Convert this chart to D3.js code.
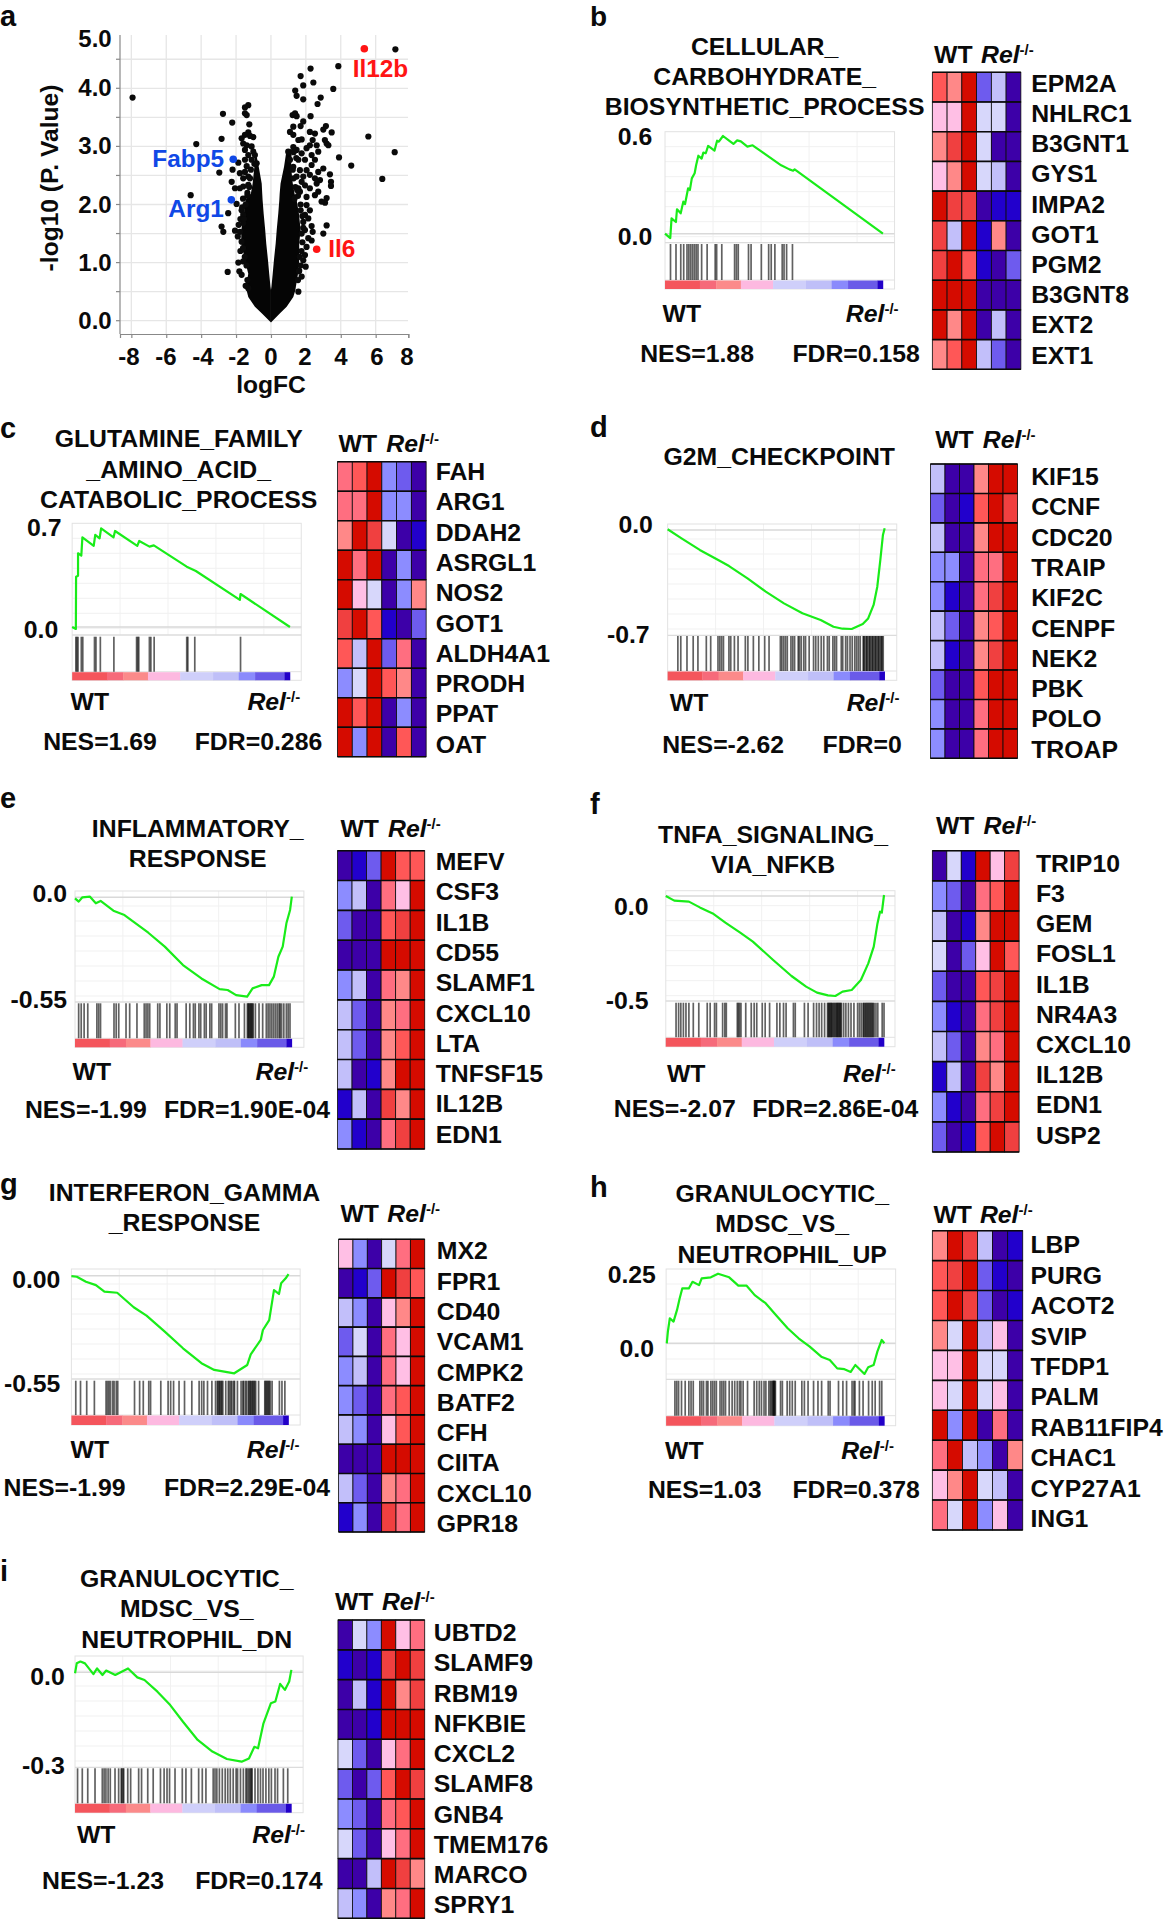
<!DOCTYPE html>
<html><head><meta charset="utf-8">
<script src="https://cdn.jsdelivr.net/npm/d3@7"></script>
<style>
html,body{margin:0;padding:0;background:#fff}
text{font-family:"Liberation Sans",Arial,sans-serif;font-weight:700;fill:#0a0a0a}
</style></head><body><svg id="c" width="1164" height="1920" viewBox="0 0 1164 1920"></svg>
<script>
// ---------- panel a : volcano ----------
const volcanoXTicks=[-8,-6,-4,-2,0,2,4,6,8];
const volcanoYTicks=[0,1,2,3,4,5];
const volcanoMinor=[0.5,1.5,2.5,3.5,4.5];
// dense cloud outline: -log10P, left arm outer/inner logFC, right arm inner/outer logFC
const massY=[-0.03,0.13,0.24,0.41,0.53,0.59,0.81,1.04,1.33,1.56,1.85,2.08,2.19,2.36,2.65,2.95];
const massLeftOuter=[0,-0.53,-0.92,-1.30,-1.40,-1.43,-1.30,-1.49,-1.70,-1.70,-1.55,-1.45,-1.15,-1.05,-0.95,-0.95];
const massLeftInner=[0,0,0,0,0,-0.03,-0.10,-0.17,-0.27,-0.33,-0.42,-0.48,-0.50,-0.53,-0.70,-0.90];
const massRightInner=[0,0,0,0,0,0.03,0.10,0.17,0.27,0.33,0.42,0.48,0.50,0.55,0.75,0.90];
const massRightOuter=[0,0.52,0.90,1.28,1.40,1.43,1.55,1.62,1.62,1.70,1.60,1.47,1.35,1.25,1.15,1.20];
const volcanoFC=[-7.93,7.13,6.38,7.09,5.58,
2.27,3.86,1.70,2.43,1.85,3.57,1.39,1.47,1.85,2.85,2.67,2.27,1.24,1.47,1.38,1.85,1.70,1.28,2.23,2.52,3.15,3.0,3.48,1.09,1.28,1.57,1.76,2.39,3.09,3.19,2.23,2.62,2.04,3.29,2.71,2.33,1.76,1.95,2.52,3.90,4.60,2.33,3.0,2.71,3.38,2.04,2.23,1.85,2.52,3.44,3.44,2.81,2.62,1.95,2.23,2.71,1.66,3.19,2.04,2.52,
1.28,0.99,1.47,1.09,1.57,1.28,1.66,1.47,1.76,1.57,
-1.30,-1.49,-1.49,-1.39,-1.24,-2.75,-2.22,-1.30,-1.20,-1.49,-1.68,-1.01,-2.83,-4.28,-1.59,-1.39,-1.11,-1.49,-1.01,-1.30,-0.92,-1.11,-1.49,-0.82,-1.39,-1.87,-2.20,-2.96,-1.78,-1.49,-1.59,-1.30,-2.25,-2.06,-1.78,-1.59,-1.30,
-1.97,-2.45,-2.83,-2.73,-2.06,-1.78,-1.59,-1.87,-1.59,-2.48,-1.81,-1.68,-1.30,-1.68,-1.59,-1.68,-4.60,
3.19,3.0,2.33,2.39,2.14,2.33,2.04,1.95,1.99,1.62,1.57,1.85,1.76,3.1,2.9,2.04,2.23,1.95,2.14,1.85,1.95,1.76,
-1.75,-1.9,-1.85,-1.75,-1.65,-1.6,-1.35,-1.25,-1.5,-1.4,-1.35,-1.45,-1.2,-1.15,-0.95,-1.6,-1.55,-1.45,-1.35,
1.7,1.75,1.8,1.85,1.8,1.7,1.55,1.4,1.3,1.25,1.45,1.3,1.55,1.6,1.65,1.7,1.5,1.35];
const volcanoP=[3.84,4.67,2.44,2.90,3.17,
4.34,4.38,4.21,4.10,4.05,3.99,3.96,3.87,3.81,3.84,3.73,3.52,3.54,3.52,3.57,3.43,3.35,3.34,3.25,3.22,3.35,3.29,3.24,3.25,3.20,3.11,3.12,3.11,3.11,3.05,3.02,3.02,2.97,3.02,2.91,2.85,2.88,2.77,2.77,2.81,2.67,2.68,2.62,2.56,2.52,2.59,2.51,2.48,2.45,2.39,2.32,2.42,2.36,2.33,2.28,2.22,2.22,2.11,2.13,2.16,
2.99,2.91,2.94,2.77,2.77,2.65,2.59,2.48,2.39,2.28,
3.71,3.67,3.57,3.54,3.38,3.56,3.41,3.24,3.18,3.20,3.14,3.16,3.13,3.04,3.05,3.02,3.0,2.94,2.91,2.85,2.85,2.77,2.77,2.71,2.66,2.72,2.60,2.55,2.54,2.56,2.45,2.48,2.39,2.28,2.28,2.31,2.34,
2.01,1.85,1.62,1.53,1.55,1.53,1.68,1.0,1.02,0.84,0.85,0.79,0.56,1.90,1.82,1.36,2.16,
1.64,1.50,1.63,1.53,1.42,1.38,1.27,1.13,0.93,0.86,0.50,1.04,0.76,2.03,2.05,1.99,1.90,1.82,1.76,1.70,1.56,1.50,
1.2,1.45,1.65,1.75,1.95,2.1,2.2,2.3,1.1,0.95,0.7,0.6,2.45,2.6,2.7,1.25,1.75,2.0,2.15,
0.95,1.2,1.35,1.6,1.8,2.0,2.15,2.3,2.45,2.6,2.8,2.9,0.7,0.85,1.1,1.9,2.25,2.1];
const namedGenes=["Il12b","Il6","Fabp5","Arg1"];
const namedFC=[5.35,2.62,-2.16,-2.27];
const namedP=[4.68,1.23,2.78,2.08];

// ---------- shared GSEA / heat map ----------
const heatColors=["#d50b00","#f04040","#ff5757","#ff6e80","#ff8888","#ffbfe5","#d7d7fb","#c2bffa","#8c8cff","#6e5bee","#3d00a8","#2200cc"];
const barEdges=[0,16,23.5,34.8,49.6,64.7,76.5,84,97.5,100];
const barColors=["#f4555c","#f66a7a","#fb8a8a","#fdb9e0","#cfcffa","#bfbff8","#8a8afc","#6a5ae8","#2200c8"];

const titleB=["CELLULAR_","CARBOHYDRATE_","BIOSYNTHETIC_PROCESS"];
const tickB=["0.6","0.0"]; const extremeB=0.6; const nesB="NES=1.88"; const fdrB="FDR=0.158";
const curveRankB=[0,2.4,3,5,5.5,7.2,8.4,9.2,10.6,11.4,12.3,13.6,14.3,15.3,16.8,17.6,18.7,19.8,22.7,23.9,24.7,26.6,29.4,31.4,33.1,34.8,37.8,40.2,44.5,53.3,57.1,58.8,59.5,100];
const curveEsB=[0,-.027,.094,.072,.15,.125,.197,.182,.279,.268,.34,.371,.422,.479,.461,.498,.494,.539,.51,.571,.565,.6,.571,.551,.573,.567,.535,.543,.502,.42,.395,.387,.395,0];
const hitsB=[15,30,43,51,60,65,70,75,80,85,90,100,115,137,141,155,190,195,200,228,235,263,283,290,300,320,325,332,348];
const genesB=["EPM2A","NHLRC1","B3GNT1","GYS1","IMPA2","GOT1","PGM2","B3GNT8","EXT2","EXT1"];
const heatB=[[2,4,0,9,7,10],[5,5,0,6,6,10],[4,1,0,6,10,10],[5,4,0,6,7,10],[0,1,1,10,11,11],[1,7,0,11,4,10],[1,0,2,11,10,9],[0,0,0,10,10,10],[0,4,0,10,7,10],[4,2,0,7,9,10]];

const titleC=["GLUTAMINE_FAMILY","_AMINO_ACID_","CATABOLIC_PROCESS"];
const tickC=["0.7","0.0"]; const extremeC=0.7; const nesC="NES=1.69"; const fdrC="FDR=0.286";
const curveRankC=[0,1.7,1.8,2.7,2.7,4.2,4.7,9.9,10.6,12.6,13.3,19,19.7,29.9,30.8,35.5,37.5,52.6,56.8,77,77.3,100];
const curveEsC=[0,-.014,.357,.364,.523,.506,.636,.575,.653,.629,.7,.636,.681,.575,.61,.57,.579,.428,.397,.192,.234,0];
const hitsC=[10,13,16,25,29,61,65,77,114,176,179,182,211,215,224,313,316,335,460];
const genesC=["FAH","ARG1","DDAH2","ASRGL1","NOS2","GOT1","ALDH4A1","PRODH","PPAT","OAT"];
const heatC=[[3,2,0,8,9,10],[3,3,0,8,8,10],[4,0,1,6,10,11],[0,3,0,10,8,10],[0,5,6,10,8,4],[1,0,2,11,10,9],[2,7,0,9,3,10],[8,6,0,2,4,10],[0,2,0,10,8,10],[0,8,0,10,2,10]];

const titleD=["G2M_CHECKPOINT"];
const tickD=["0.0","-0.7"]; const extremeD=-0.7; const nesD="NES=-2.62"; const fdrD="FDR=0";
const curveRankD=[0,6.4,14.8,23.3,28.3,36.8,45.2,53.6,62.1,70.5,76.4,80.6,84.8,89.9,92.4,94.9,96.6,98,99.2,100];
const curveEsD=[.005,-.059,-.141,-.212,-.255,-.342,-.436,-.519,-.589,-.636,-.684,-.698,-.7,-.665,-.625,-.53,-.401,-.212,-.035,.012];
const hitsD=[28,36,53,70,83,106,118,138,143,148,153,168,173,183,193,213,220,235,250,266,278,309,313,318,323,328,338,343,348,358,361,366,373,378,388,400,406,413,421,428,438,443,453,458,463,476,480,488,493,500,506,513,518,523,528,536,540,544,548,552,556,560,564,568,572,576,580,584,588,591,538,546,554,562,570,578,586];
const genesD=["KIF15","CCNF","CDC20","TRAIP","KIF2C","CENPF","NEK2","PBK","POLO","TROAP"];
const heatD=[[7,10,10,4,0,0],[9,10,11,2,0,1],[7,10,10,4,0,0],[8,8,10,3,3,0],[8,11,10,3,1,0],[7,9,10,4,2,0],[7,11,10,4,1,0],[9,10,10,2,0,0],[8,10,10,3,0,0],[8,10,10,3,0,0]];

const titleE=["INFLAMMATORY_","RESPONSE"];
const tickE=["0.0","-0.55"]; const extremeE=-0.55; const nesE="NES=-1.99"; const fdrE="FDR=1.90E-04";
const curveRankE=[0,1.7,3.4,6.8,9.6,11.8,17.7,22.8,33.8,41.4,49.8,58.3,66.7,70.4,74.3,79.4,81.9,86.1,89.5,91.7,93.8,95.8,97.5,99.2,100];
const curveEsE=[-.006,-.024,0,.004,-.033,-.02,-.074,-.098,-.196,-.273,-.375,-.449,-.508,-.513,-.541,-.55,-.504,-.486,-.486,-.439,-.329,-.273,-.144,-.07,.004];
const hitsE=[10,17,25,35,60,65,70,107,113,120,140,150,170,190,195,200,205,227,233,252,260,275,280,305,315,325,330,340,345,355,360,370,375,395,400,405,413,417,440,450,465,473,477,481,485,489,495,505,515,525,530,535,540,545,550,555,560,563,567,573,580,585,590,475,479,483,487];
const genesE=["MEFV","CSF3","IL1B","CD55","SLAMF1","CXCL10","LTA","TNFSF15","IL12B","EDN1"];
const heatE=[[10,11,9,0,2,2],[8,7,10,3,5,0],[9,10,10,2,1,0],[10,10,10,0,0,0],[8,7,10,3,4,0],[7,9,10,4,3,0],[7,9,10,4,2,0],[7,10,11,4,0,0],[11,7,10,1,4,0],[8,11,10,3,1,0]];

const titleF=["TNFA_SIGNALING_","VIA_NFKB"];
const tickF=["0.0","-0.5"]; const extremeF=-0.5; const nesF="NES=-2.07"; const fdrF="FDR=2.86E-04";
const curveRankF=[0,3.9,10.6,15.6,21.5,27.3,34.1,39.9,49.2,57.6,64.3,69.3,74.3,77.7,81,85.2,89.4,92.8,95.3,97,98.2,99,100];
const curveEsF=[0,-.023,-.028,-.057,-.087,-.133,-.183,-.228,-.32,-.4,-.453,-.483,-.497,-.5,-.478,-.47,-.42,-.337,-.253,-.137,-.078,-.083,.005];
const hitsF=[28,35,41,48,55,63,75,90,113,121,133,138,155,161,165,195,198,201,205,218,233,241,248,263,271,283,303,311,321,328,348,353,378,388,403,411,418,425,433,441,445,449,453,458,463,467,471,475,479,485,491,498,505,513,523,528,533,538,543,548,553,558,563,568,573,578,590,595,443,447,451,455,460,465,469,473,477,540,545,550,555,560,565];
const genesF=["TRIP10","F3","GEM","FOSL1","IL1B","NR4A3","CXCL10","IL12B","EDN1","USP2"];
const heatF=[[10,6,11,0,5,1],[8,9,10,3,2,0],[7,10,11,4,0,0],[6,10,9,5,0,2],[9,10,10,2,1,0],[8,11,10,3,1,0],[7,9,10,4,3,0],[11,7,10,1,4,0],[8,11,10,3,1,0],[9,10,11,2,0,1]];

const titleG=["INTERFERON_GAMMA","_RESPONSE"];
const tickG=["0.00","-0.55"]; const extremeG=-0.55; const nesG="NES=-1.99"; const fdrG="FDR=2.29E-04";
const curveRankG=[0,2.5,6.7,11.3,15.2,21.1,28.7,34.6,43,51.4,59.9,65.8,75,81,82.6,87.2,88.2,91.1,93.3,95.6,96.6,98.7,100];
const curveEsG=[-.002,-.006,-.034,-.053,-.09,-.096,-.178,-.225,-.315,-.409,-.493,-.531,-.55,-.503,-.443,-.362,-.306,-.25,-.081,-.103,-.043,-.015,.009];
const hitsG=[12,25,42,63,95,99,103,107,113,117,123,127,173,187,197,212,217,245,265,272,280,295,310,330,350,357,363,373,385,395,400,405,410,415,423,430,437,445,455,465,470,477,485,490,495,500,505,513,530,535,540,545,550,570,577,585,402,407,412,433,440,447,472,480,487,492,497,502,532,537,542];
const genesG=["MX2","FPR1","CD40","VCAM1","CMPK2","BATF2","CFH","CIITA","CXCL10","GPR18"];
const heatG=[[5,8,10,6,3,0],[10,11,9,0,1,2],[7,8,10,5,4,0],[9,6,10,3,5,0],[8,7,10,3,5,0],[8,9,10,3,2,0],[7,8,10,5,2,0],[10,10,10,0,0,0],[7,9,10,4,3,0],[11,8,10,1,3,0]];

const titleH=["GRANULOCYTIC_","MDSC_VS_","NEUTROPHIL_UP"];
const tickH=["0.25","0.0"]; const extremeH=0.25; const nesH="NES=1.03"; const fdrH="FDR=0.378";
const curveRankH=[.3,.8,1.7,3.4,5,6.2,7.4,10.4,12.1,15.1,16.3,20.5,23.8,28.9,33.1,36.9,40.6,45.6,50.7,55.7,60.7,65.8,71.1,75,78.4,81.7,84.6,86.7,90.9,92.6,95.1,96.8,98.8,100];
const curveEsH=[0,.042,.09,.078,.12,.161,.197,.197,.221,.209,.233,.237,.25,.237,.207,.207,.173,.144,.098,.054,.018,-.012,-.048,-.06,-.09,-.093,-.103,-.078,-.11,-.086,-.078,-.03,.012,0];
const hitsH=[24,29,34,42,52,62,68,74,92,97,102,110,114,122,127,132,137,147,152,157,162,172,180,187,194,200,204,210,222,240,247,254,260,267,272,280,287,292,295,298,312,317,330,337,344,352,370,377,387,402,414,424,442,447,470,482,492,507,512,527,537,552,562,570,582,588,284,290,293,296,515];
const genesH=["LBP","PURG","ACOT2","SVIP","TFDP1","PALM","RAB11FIP4","CHAC1","CYP27A1","ING1"];
const heatH=[[4,0,1,7,10,11],[2,1,0,9,11,10],[2,0,1,9,10,11],[4,6,0,7,5,10],[5,5,0,6,6,10],[5,6,0,6,5,10],[0,8,0,10,3,10],[3,0,7,8,10,4],[5,4,0,6,7,10],[3,6,0,8,5,10]];

const titleI=["GRANULOCYTIC_","MDSC_VS_","NEUTROPHIL_DN"];
const tickI=["0.0","-0.3"]; const extremeI=-0.3; const nesI="NES=-1.23"; const fdrI="FDR=0.174";
const curveRankI=[0,.8,2.5,4.6,8.5,10.2,12.7,14.4,18.6,24.5,28.8,32.1,38.1,44,49.9,56.7,63.5,70.2,77,80.4,82.9,84.6,87.1,90.5,92.6,94.8,97,99,100];
const curveEsI=[-.003,.03,.036,.03,-.006,.013,-.009,.006,-.009,.013,-.017,-.026,-.065,-.11,-.166,-.227,-.266,-.291,-.3,-.289,-.25,-.255,-.171,-.104,-.098,-.039,-.059,-.031,.008];
const hitsI=[7,20,35,55,75,80,85,91,97,110,120,127,132,145,153,175,183,200,215,235,245,253,260,275,295,305,320,340,350,360,380,385,390,397,405,413,420,427,435,443,447,455,463,470,477,483,487,495,503,510,517,525,533,540,550,557,573,585,473,480,485,129,134];
const genesI=["UBTD2","SLAMF9","RBM19","NFKBIE","CXCL2","SLAMF8","GNB4","TMEM176","MARCO","SPRY1"];
const heatI=[[10,6,8,0,5,3],[11,10,11,1,0,1],[10,7,11,0,4,1],[10,10,11,0,0,0],[6,9,10,5,3,0],[9,10,9,2,0,1],[8,9,10,3,2,0],[6,9,10,5,3,0],[10,10,7,0,1,4],[7,8,10,4,3,0]];

// ---------- layout (pixels); x values are given relative to the column origin ox and stretched by XS ----------
const XS=1.0983;
const layoutsRaw=[
{k:"b",ox:590,lx:590,ly:25.5,tcx:749,ty:[55,85,115],L:658.3,R:867.3,T:131.7,zero:233.7,ext:136,div:242.7,rugT:244,rugB:280,barB:289,barEnd:856.7,tr:[646.7,646.7],tc:[136.7,236],wtx:656,wty:321.7,relx:871,nesx:635.7,nesy:361.7,fdrx:774.3,hL:901.7,hR:982.3,hT:72.3,hB:369.3,hwx:903.3,hwy:62.7,hrx:946,gx:991.7,gy:91.7,gs:30.2},
{k:"c",ox:0,lx:0,ly:438,tcx:162.7,ty:[447.3,477.7,507.7],L:65.7,R:274.3,T:523.3,zero:627,ext:528.3,div:635,rugT:636.7,rugB:671.7,barB:680.3,barEnd:264,tr:[56,53],tc:[527.3,629],wtx:64.3,wty:710,relx:273.3,nesx:39.3,nesy:750,fdrx:177.3,hL:307.3,hR:388,hT:461.7,hB:756.7,hwx:308.3,hwy:451.7,hrx:351.7,gx:396.7,gy:480,gs:30.3},
{k:"d",ox:590,lx:590,ly:437.3,tcx:762.3,ty:[465],L:660.7,R:869.3,T:524,zero:530,ext:629,div:635.3,rugT:636,rugB:671,barB:680.3,barEnd:858.3,tr:[647.3,644.3],tc:[524.3,634],wtx:662.7,wty:711,relx:871.7,nesx:655.7,nesy:752.7,fdrx:801.7,hL:900,hR:979.3,hT:464,hB:758.3,hwx:904.3,hwy:448.3,hrx:947.7,gx:991.7,gy:485,gs:30.3},
{k:"e",ox:0,lx:0,ly:808.3,tcx:180,ty:[836.7,866.7],L:68.3,R:276.7,T:891,zero:897.3,ext:996.7,div:1002,rugT:1003.3,rugB:1038.3,barB:1047.3,barEnd:265.7,tr:[61,61],tc:[893.3,999.3],wtx:66,wty:1080,relx:280.7,nesx:22.7,nesy:1117.7,fdrx:149.3,hL:307.3,hR:386.7,hT:850.7,hB:1149,hwx:310,hwy:836.7,hrx:353.3,gx:396.7,gy:870,gs:30.3},
{k:"f",ox:590,lx:590,ly:814,tcx:756.7,ty:[843.3,873.3],L:659,R:867.7,T:890.7,zero:896,ext:996,div:1001,rugT:1002.7,rugB:1037.3,barB:1046.7,barEnd:857.7,tr:[643.3,643.3],tc:[906,1000.7],wtx:660,wty:1081.7,relx:868.3,nesx:611.7,nesy:1116.7,fdrx:737.7,hL:901.7,hR:980.7,hT:850.7,hB:1152,hwx:905,hwy:834.3,hrx:948.3,gx:996,gy:871.7,gs:30.2},
{k:"g",ox:0,lx:0,ly:1194,tcx:168,ty:[1200.7,1230.7],L:65,R:273.3,T:1269,zero:1275.7,ext:1373.3,div:1379,rugT:1380.7,rugB:1415,barB:1425,barEnd:262.7,tr:[55,55],tc:[1279,1383.3],wtx:64.3,wty:1458.3,relx:272.7,nesx:3.3,nesy:1496,fdrx:149.3,hL:308.3,hR:386.7,hT:1239.3,hB:1532,hwx:310,hwy:1221.7,hrx:352.7,gx:397.7,gy:1259.3,gs:30.3},
{k:"h",ox:590,lx:590,ly:1196.7,tcx:765,ty:[1201.7,1232.3,1262.7],L:659.3,R:868.3,T:1269,zero:1343.3,ext:1273.7,div:1379.3,rugT:1380.7,rugB:1415.7,barB:1425.7,barEnd:858,tr:[650,648.3],tc:[1274,1348.3],wtx:658.3,wty:1459,relx:866.7,nesx:642.7,nesy:1497.7,fdrx:774.3,hL:901.7,hR:984,hT:1230.7,hB:1530,hwx:902.7,hwy:1222.7,hrx:945,gx:991,gy:1253.3,gs:30.4},
{k:"i",ox:0,lx:0,ly:1580.7,tcx:170,ty:[1587.3,1617.3,1648.3],L:68.3,R:276,T:1656,zero:1672.3,ext:1761.7,div:1767.3,rugT:1768.3,rugB:1803.3,barB:1812.7,barEnd:265.3,tr:[59,59],tc:[1676.7,1765.7],wtx:70,wty:1843.3,relx:277.7,nesx:38.3,nesy:1889,fdrx:177.7,hL:307.7,hR:386.7,hT:1620,hB:1918.3,hwx:305,hwy:1610,hrx:347.7,gx:395,gy:1641,gs:30.25}
];
const layouts=layoutsRaw.map(p=>{
  const q=Object.assign({},p), sx=v=>p.ox+(v-p.ox)*XS;
  ["tcx","L","R","barEnd","wtx","relx","nesx","fdrx","hL","hR","hwx","hrx","gx"].forEach(f=>q[f]=sx(p[f]));
  q.tr=p.tr.map(sx);
  return q;
});
const panelData={
 b:[titleB,tickB,extremeB,nesB,fdrB,curveRankB,curveEsB,hitsB,genesB,heatB],
 c:[titleC,tickC,extremeC,nesC,fdrC,curveRankC,curveEsC,hitsC,genesC,heatC],
 d:[titleD,tickD,extremeD,nesD,fdrD,curveRankD,curveEsD,hitsD,genesD,heatD],
 e:[titleE,tickE,extremeE,nesE,fdrE,curveRankE,curveEsE,hitsE,genesE,heatE],
 f:[titleF,tickF,extremeF,nesF,fdrF,curveRankF,curveEsF,hitsF,genesF,heatF],
 g:[titleG,tickG,extremeG,nesG,fdrG,curveRankG,curveEsG,hitsG,genesG,heatG],
 h:[titleH,tickH,extremeH,nesH,fdrH,curveRankH,curveEsH,hitsH,genesH,heatH],
 i:[titleI,tickI,extremeI,nesI,fdrI,curveRankI,curveEsI,hitsI,genesI,heatI]
};

const svg=d3.select("#c");
const FS=24.8;
function label(g,x,y,t,o={}){
  return g.append("text").attr("x",x).attr("y",y).attr("font-size",o.size||FS)
    .attr("text-anchor",o.anchor||"start").style("fill",o.fill||"#0a0a0a").text(t);
}
function relLabel(g,x,y,anchor){
  const t=g.append("text").attr("x",x).attr("y",y).attr("font-size",FS).attr("text-anchor",anchor);
  t.append("tspan").attr("font-style","italic").text("Rel");
  t.append("tspan").attr("font-size",15).attr("dy",-8).text("-/-");
}

// ---------- volcano ----------
(function(){
  const g=svg.append("g");
  const x=d3.scaleLinear().domain([-8.65,7.87]).range([120,408.3]);
  const y=d3.scaleLinear().domain([0,1]).range([320.7,262.6]);
  const yTop=35, yBot=334;
  label(g,0,25.5,"a",{size:29});
  const grid=g.append("g").attr("stroke","#e6e6e6").attr("stroke-width",1.3);
  volcanoXTicks.filter(v=>x(v)<408).forEach(v=>grid.append("line").attr("x1",x(v)).attr("x2",x(v)).attr("y1",yTop).attr("y2",yBot));
  volcanoYTicks.concat(volcanoMinor).filter(v=>y(v)>yTop).forEach(v=>grid.append("line").attr("x1",120).attr("x2",408).attr("y1",y(v)).attr("y2",y(v)));
  const xAxis=d3.axisBottom(x).tickValues([-8,-6,-4,-2,0,2,4,6,7.87]).tickSize(4).tickFormat(()=>"");
  g.append("g").attr("transform",`translate(0,${yBot})`).call(xAxis).call(s=>{s.selectAll("path,line").attr("stroke","#888").attr("stroke-width",1.2);});
  g.append("line").attr("x1",120).attr("x2",120).attr("y1",yTop).attr("y2",yBot).attr("stroke","#888").attr("stroke-width",1.2);
  volcanoYTicks.concat(volcanoMinor).filter(v=>y(v)>yTop).forEach(v=>g.append("line").attr("x1",116).attr("x2",120).attr("y1",y(v)).attr("y2",y(v)).attr("stroke","#888").attr("stroke-width",1.2));
  const xLabelX={"-8":129,"-6":166,"-4":203,"-2":239,"0":271,"2":305,"4":341,"6":377,"8":407};
  volcanoXTicks.forEach(v=>label(g,xLabelX[v],365,String(v),{size:24,anchor:"middle"}));
  volcanoYTicks.forEach(v=>label(g,111.7,v===5?47:y(v)+8,v.toFixed(1),{size:24,anchor:"end"}));
  label(g,271,392.7,"logFC",{size:24.6,anchor:"middle"});
  g.append("text").attr("transform","translate(58,178) rotate(-90)").attr("text-anchor","middle").attr("font-size",24.6).text("-log10 (P. Value)");
  const rows=massY.map((v,i)=>({y:v,lo:massLeftOuter[i],li:massLeftInner[i],ri:massRightInner[i],ro:massRightOuter[i]}));
  g.append("path").attr("fill","#050505").attr("d",d3.area().y(d=>y(d.y)).x0(d=>x(d.lo)).x1(d=>x(d.li))(rows));
  g.append("path").attr("fill","#050505").attr("d",d3.area().y(d=>y(d.y)).x0(d=>x(d.ri)).x1(d=>x(d.ro))(rows));
  g.append("g").selectAll("circle").data(volcanoFC.map((v,i)=>[v,volcanoP[i]])).join("circle")
    .attr("cx",d=>x(d[0])).attr("cy",d=>y(d[1])).attr("r",3.1).attr("fill","#0a0a0a");
  const nc=["#ff1414","#ff1414","#1048e6","#1048e6"];
  const nl=[[352.7,77.3],[328.3,257.3],[152.3,166.7],[168.3,216.7]];
  namedGenes.forEach((n,i)=>{
    g.append("circle").attr("cx",x(namedFC[i])).attr("cy",y(namedP[i])).attr("r",3.8).attr("fill",nc[i]);
    label(g,nl[i][0],nl[i][1],n,{size:24.4,fill:nc[i]});
  });
})();

// ---------- GSEA panels ----------
layouts.forEach(p=>{
  const [title,ticks,extreme,nes,fdr,rank,es,hits,genes,heat]=panelData[p.k];
  const g=svg.append("g");
  label(g,p.lx,p.ly,p.k,{size:p.k==="b"?28:29});
  title.forEach((t,i)=>label(g,p.tcx,p.ty[i],t,{anchor:"middle"}));
  const x=d3.scaleLinear().domain([0,100]).range([p.L,p.barEnd]);
  const y=d3.scaleLinear().domain([0,extreme]).range([p.zero,p.ext]);
  // frame + faint grid
  const gr=g.append("g").attr("stroke","#f1f1f1").attr("stroke-width",1);
  [1,2,3,4].forEach(i=>{const v=p.L+(p.R-p.L)*i/4.78;gr.append("line").attr("x1",v).attr("x2",v).attr("y1",p.T).attr("y2",p.div);});
  d3.range(p.T+15,p.div,15).forEach(v=>gr.append("line").attr("x1",p.L).attr("x2",p.R).attr("y1",v).attr("y2",v));
  g.append("rect").attr("x",p.L).attr("y",p.T).attr("width",p.R-p.L).attr("height",p.barB-p.T).attr("fill","none").attr("stroke","#e2e2e2").attr("stroke-width",1);
  g.append("line").attr("x1",p.L).attr("x2",p.R).attr("y1",p.zero).attr("y2",p.zero).attr("stroke","#d9d9d9").attr("stroke-width",1.5);
  g.append("line").attr("x1",p.L).attr("x2",p.R).attr("y1",p.div).attr("y2",p.div).attr("stroke","#dcdcdc").attr("stroke-width",1.3);
  g.append("line").attr("x1",p.L).attr("x2",p.R).attr("y1",p.rugB).attr("y2",p.rugB).attr("stroke","#e2e2e2").attr("stroke-width",1);
  // rug
  g.append("g").selectAll("line").data(hits).join("line")
    .attr("x1",b=>x(b/5.95)).attr("x2",b=>x(b/5.95)).attr("y1",p.rugT).attr("y2",p.rugB)
    .attr("stroke","#000").attr("stroke-opacity",0.62).attr("stroke-width",1.7);
  // rank colour bar
  g.append("g").selectAll("rect").data(barColors).join("rect")
    .attr("x",(c,i)=>x(barEdges[i])).attr("width",(c,i)=>x(barEdges[i+1])-x(barEdges[i])+0.3)
    .attr("y",p.rugB+0.5).attr("height",p.barB-p.rugB-0.5).attr("fill",c=>c);
  // running score
  const line=d3.line().x(d=>x(d[0])).y(d=>y(d[1]));
  g.append("path").attr("d",line(rank.map((r,i)=>[r,es[i]]))).attr("fill","none").attr("stroke","#19ec19").attr("stroke-width",2.2).attr("stroke-linejoin","round");
  ticks.forEach((t,i)=>label(g,p.tr[i],p.tc[i]+8.5,t,{anchor:"end"}));
  label(g,p.wtx,p.wty,"WT");
  relLabel(g,p.relx,p.wty,"end");
  label(g,p.nesx,p.nesy,nes);
  label(g,p.fdrx,p.nesy,fdr);
  // heat map
  label(g,p.hwx,p.hwy,"WT");
  relLabel(g,p.hrx,p.hwy,"start");
  const cx=d3.scaleBand().domain(d3.range(6)).range([p.hL,p.hR]);
  const cy=d3.scaleBand().domain(d3.range(genes.length)).range([p.hT,p.hB]);
  const col=d3.scaleOrdinal().domain(d3.range(heatColors.length)).range(heatColors);
  const cells=heat.flatMap((r,i)=>r.map((v,j)=>({i,j,v})));
  g.append("g").selectAll("rect").data(cells).join("rect")
    .attr("x",d=>cx(d.j)).attr("y",d=>cy(d.i)).attr("width",cx.bandwidth()).attr("height",cy.bandwidth())
    .attr("fill",d=>col(d.v)).attr("stroke","#0a0a0a").attr("stroke-width",0.8);
  d3.range(genes.length+1).forEach(i=>{const v=p.hT+i*cy.bandwidth();
    g.append("line").attr("x1",p.hL).attr("x2",p.hR).attr("y1",v).attr("y2",v).attr("stroke","#0a0a0a").attr("stroke-width",1.6);});
  genes.forEach((t,i)=>label(g,p.gx,p.gy+i*p.gs,t));
});
</script></body></html>
